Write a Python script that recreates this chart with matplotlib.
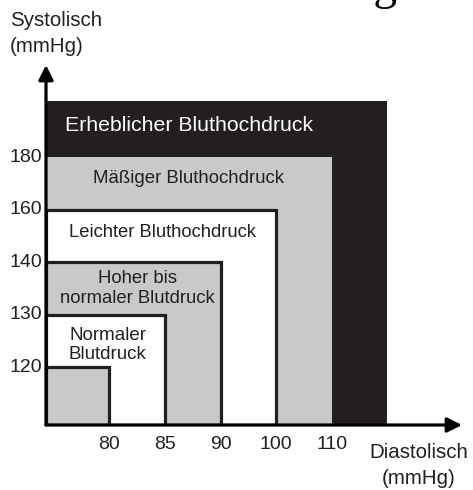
import matplotlib.pyplot as plt
from matplotlib.patches import Rectangle

# blood pressure classes (outer -> inner)
dia_levels = [80, 85, 90, 100, 110]
sys_levels = [120, 130, 140, 160, 180]
classes = ['Erheblicher Bluthochdruck', 'Mäßiger Bluthochdruck', 'Leichter Bluthochdruck',
           'Hoher bis\nnormaler Blutdruck', 'Normaler\nBlutdruck', '']
fills = ['#231f20', '#c8c9cb', '#ffffff', '#c8c9cb', '#ffffff', '#c8c9cb']
label_colors = ['white', '#231f20', '#231f20', '#231f20', '#231f20', '#231f20']

plt.rcParams['font.family'] = ['Liberation Sans', 'DejaVu Sans']
ink = '#231f20'

W, H = 473, 490
fig = plt.figure(figsize=(W / 100, H / 100), dpi=100)
ax = fig.add_axes([46 / W, (H - 425) / H, (462 - 46) / W, (425 - 65) / H])
x0, y0 = -0.14, -0.1
ax.set_xlim(x0, 7.34)
ax.set_ylim(y0, 6.76)
ax.axis('off')

# categorical positions: level i sits at i+1, outer box reaches 6
n = len(classes)
for k in range(n):
    right = n - k
    top = n - k + (0.07 if k == 0 else 0)
    border = k >= 2
    ax.add_patch(Rectangle((x0, y0), right - x0, top - y0, facecolor=fills[k],
                           edgecolor=ink if border else 'none', lw=2.3 if border else 0,
                           zorder=k + 1))

# labels
lbl_pos = [(2.43, 5.61), (2.43, 4.6), (1.95, 3.56), (1.51, 2.5), (0.97, 1.42)]
lbl_size = [15.3, 13.4, 13.2, 13.3, 13.5]
for k, (lx, ly) in enumerate(lbl_pos):
    ax.text(lx, ly, classes[k], ha='center', va='center', color=label_colors[k],
            fontsize=lbl_size[k], linespacing=1.18, zorder=20)

# axes with arrows
ax.annotate('', xy=(7.34, y0), xytext=(x0, y0),
            arrowprops=dict(arrowstyle='-|>', color='black', lw=2.3, mutation_scale=22,
                            shrinkA=0, shrinkB=0), zorder=30, annotation_clip=False)
ax.annotate('', xy=(x0, 6.76), xytext=(x0, y0),
            arrowprops=dict(arrowstyle='-|>', color='black', lw=2.3, mutation_scale=22,
                            shrinkA=0, shrinkB=0), zorder=30, annotation_clip=False)

# tick labels
for i, v in enumerate(dia_levels):
    ax.text(i + 1, y0 - 0.38, str(v), ha='center', va='center', fontsize=14, color=ink)
for i, v in enumerate(sys_levels):
    ax.text(x0 - 0.07, i + 1, str(v), ha='right', va='center', fontsize=14, color=ink)

fig.text(10 / W, 1 - 11 / H, 'Systolisch\n(mmHg)', ha='left', va='top', fontsize=14.8,
         color=ink, linespacing=1.45)
fig.text(419 / W, 1 - 443 / H, 'Diastolisch\n(mmHg)', ha='center', va='top', fontsize=14.8,
         color=ink, linespacing=1.45)

# cropped title at the very top
fig.text(398 / W, 1 + 1 / H, 'Einteilung', ha='right', va='baseline', fontsize=34,
         family='Liberation Serif', color='black')

fig.savefig('out.png', dpi=100)
